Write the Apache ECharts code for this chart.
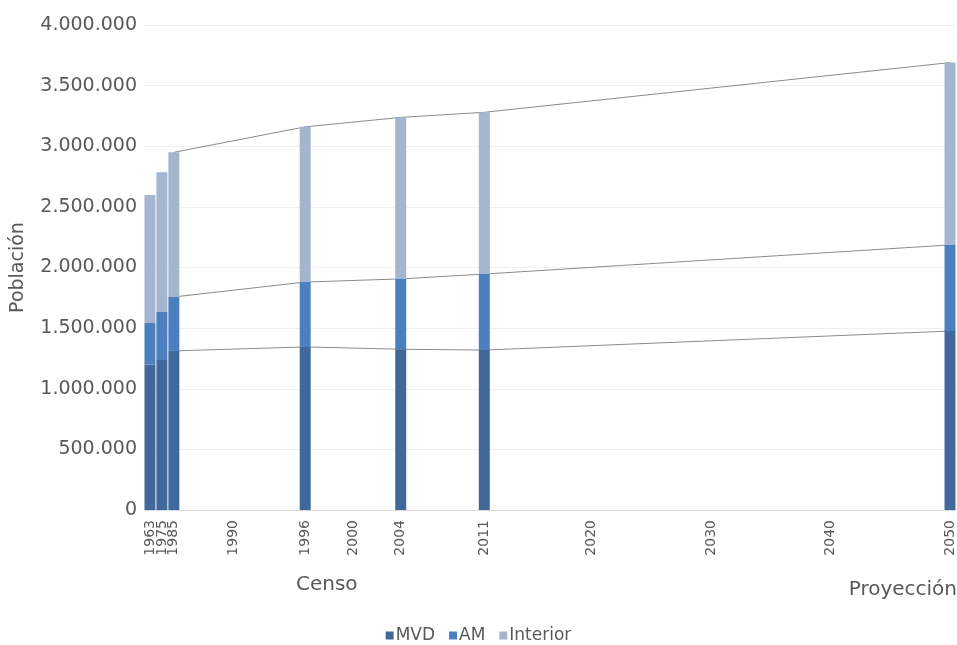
<!DOCTYPE html>
<html>
<head>
<meta charset="utf-8">
<script src="https://cdn.jsdelivr.net/npm/echarts@6/dist/echarts.min.js"></script>
<style>
  html, body { margin: 0; padding: 0; background: #ffffff; }
  #chart { width: 957px; height: 645px; }
</style>
</head>
<body>
<div id="chart"></div>
<script>
// Census years and the 2050 projection
const censusYears = ['1963', '1975', '1985', '1996', '2004', '2011', '2050'];
// Population by region (inhabitants)
const mvd      = [1200000, 1237000, 1312000, 1345000, 1326000, 1319000, 1476000];
const am       = [ 342000,  396000,  445000,  535000,  580000,  627000,  710000];
const interior = [1056000, 1152000, 1193000, 1280000, 1332000, 1334000, 1504000];
// Years that get a label on the horizontal axis
const labelYears = ['1963', '1975', '1985', '1990', '1996', '2000', '2004', '2011', '2020', '2030', '2040', '2050'];

// Axis categories: the two early censuses, then every year from 1985 to 2050
const categories = ['1963', '1975'];
for (let y = 1985; y <= 2050; y++) categories.push(String(y));

function spread(values, fromIndex) {
  const start = fromIndex || 0;
  return categories.map(c => {
    const i = censusYears.indexOf(c);
    return (i < start) ? null : values[i];
  });
}
const cumMvd = mvd;
const cumAm = mvd.map((v, i) => v + am[i]);
const cumTotal = mvd.map((v, i) => v + am[i] + interior[i]);

// Bars for 1963, 1975 and 1985 sit side by side, so joining lines start at 1985
const firstJoined = 2;

const colors = { mvd: '#41689a', am: '#4b7fbd', interior: '#a4b5d0' };
const fontFamily = 'DejaVu Sans, Verdana, sans-serif';
const textColor = '#595959';

function fmt(v) {
  return String(v).replace(/\B(?=(\d{3})+(?!\d))/g, '.');
}

function barSeries(name, values, color) {
  return {
    name, type: 'bar', stack: 'pop', data: spread(values),
    barCategoryGap: '8%', z: 3,
    itemStyle: { color },
    emphasis: { disabled: true }
  };
}
function connector(values) {
  return {
    type: 'line', data: spread(values, firstJoined), connectNulls: true,
    symbol: 'none', z: 1, silent: true,
    lineStyle: { color: '#8a8a8a', width: 1 }
  };
}

const chart = echarts.init(document.getElementById('chart'));
chart.setOption({
  animation: false,
  textStyle: { fontFamily },
  grid: { left: 144, right: 1, top: 25, bottom: 135, containLabel: false },
  legend: {
    bottom: -4, left: 'center', itemWidth: 8, itemHeight: 8, itemGap: 14,
    icon: 'rect',
    data: ['MVD', 'AM', 'Interior'],
    textStyle: { color: textColor, fontSize: 17, fontFamily, padding: [0, 0, 0, -3] }
  },
  xAxis: {
    type: 'category', data: categories,
    axisTick: { show: false },
    axisLine: { lineStyle: { color: '#d9d9d9', width: 1 } },
    axisLabel: {
      rotate: 90, fontSize: 14, color: textColor, margin: 10,
      interval: 0, hideOverlap: false,
      formatter: value => (labelYears.includes(value) ? value : '')
    }
  },
  yAxis: {
    type: 'value', min: 0, max: 4000000, interval: 500000,
    name: 'Población', nameLocation: 'middle', nameGap: 116, nameRotate: 90,
    nameTextStyle: { color: textColor, fontSize: 19, fontFamily },
    axisLine: { show: false }, axisTick: { show: false },
    axisLabel: { color: textColor, fontSize: 19, margin: 7, formatter: fmt },
    splitLine: { lineStyle: { color: '#efefef', width: 1 } }
  },
  graphic: [
    { type: 'text', left: 296, top: 575,
      style: { text: 'Censo', fill: textColor, font: '20px ' + fontFamily } },
    { type: 'text', right: 0, top: 580,
      style: { text: 'Proyección', fill: textColor, font: '20px ' + fontFamily } }
  ],
  series: [
    barSeries('MVD', mvd, colors.mvd),
    barSeries('AM', am, colors.am),
    barSeries('Interior', interior, colors.interior),
    connector(cumMvd),
    connector(cumAm),
    connector(cumTotal)
  ]
});
</script>
</body>
</html>
